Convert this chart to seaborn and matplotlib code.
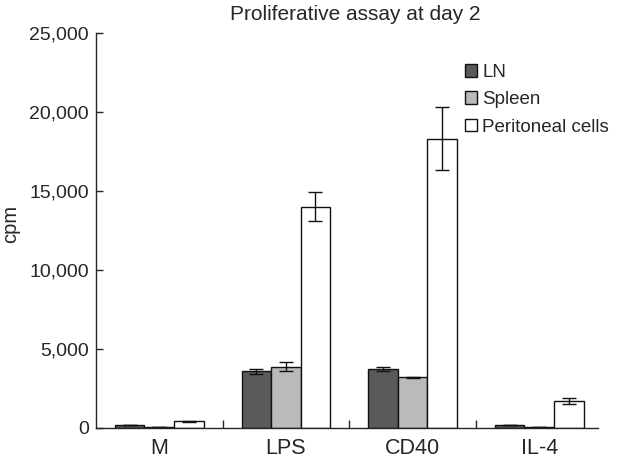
import matplotlib
matplotlib.use('Agg')
import matplotlib.pyplot as plt
import pandas as pd
import seaborn as sns
import numpy as np

# Data
groups = ['M', 'LPS', 'CD40', 'IL-4']
cells = ['LN', 'Spleen', 'Peritoneal cells']
ln_vals = [200, 3580, 3700, 200]
spleen_vals = [60, 3880, 3200, 80]
perit_vals = [420, 14000, 18300, 1690]
ln_err = [0, 150, 120, 0]
spleen_err = [0, 260, 30, 0]
perit_err = [30, 930, 2000, 180]
colors = ['#5a5a5a', '#bababa', '#ffffff']

df = pd.DataFrame({
  'group': groups * 3,
  'cell': [c for c in cells for _ in groups],
  'value': ln_vals + spleen_vals + perit_vals,
  'err': ln_err + spleen_err + perit_err,
})

sns.set_style('ticks')
plt.rcParams['font.family'] = ['Liberation Sans', 'DejaVu Sans']

fig = plt.figure(figsize=(6.27, 4.62), dpi=100)
ax = fig.add_axes([0.153, 0.074, 0.80, 0.855])

sns.barplot(data=df, x='group', y='value', hue='cell', order=groups, hue_order=cells,
            palette=colors, edgecolor='#111111', linewidth=1.0, width=0.7,
            errorbar=None, ax=ax, legend=True)

# error bars on top of each bar
for cont, cell in zip(ax.containers, cells):
  sub = df[df.cell == cell].set_index('group').loc[groups]
  xs = [p.get_x() + p.get_width() / 2 for p in cont.patches]
  ax.errorbar(xs, sub.value, yerr=sub.err, fmt='none', ecolor='#111111',
              elinewidth=1.0, capsize=5, capthick=1.0)

ax.set_ylim(0, 25000)
ax.set_xlim(-0.5, 3.46)
ax.set_yticks(np.arange(0, 25001, 5000))
ax.yaxis.set_major_formatter(matplotlib.ticker.FuncFormatter(lambda v, p: f'{int(v):,}'))
ax.tick_params(axis='y', direction='in', length=5, labelsize=14, width=1, pad=5)
ax.set_xticks(range(4))
ax.set_xticklabels(groups)
ax.tick_params(axis='x', length=0, labelsize=15.5, pad=7)
ax.set_xticks([0.5, 1.5, 2.5], minor=True)
ax.tick_params(axis='x', which='minor', direction='in', length=6, width=1)
ax.set_xlabel('')
ax.set_ylabel('cpm', fontsize=14.5)
ax.yaxis.set_label_coords(-0.152, 0.516)
for s in ['top', 'right']:
  ax.spines[s].set_visible(False)
for s in ['left', 'bottom']:
  ax.spines[s].set_linewidth(1.0)

fig.text(0.567, 0.968, 'Proliferative assay at day 2', ha='center', va='center', fontsize=15)

leg = ax.legend(loc='upper left', bbox_to_anchor=(0.72, 0.94), frameon=False, fontsize=13.5,
                handlelength=0.65, handleheight=0.65, handletextpad=0.3, labelspacing=0.55,
                borderaxespad=0)

fig.savefig('out.png', dpi=100)
